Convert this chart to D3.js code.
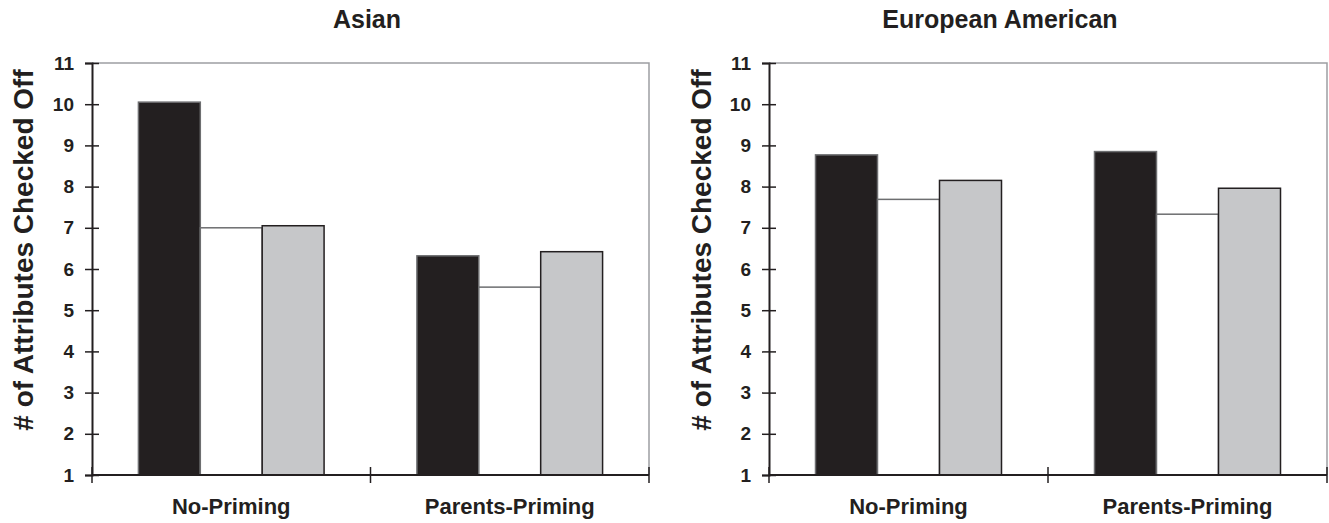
<!DOCTYPE html>
<html>
<head>
<meta charset="utf-8">
<script src="https://cdn.jsdelivr.net/npm/d3@7"></script>
<style>
  html, body { margin: 0; padding: 0; background: #fff; }
  svg { display: block; }
  text { font-family: "Liberation Sans", Arial, sans-serif; font-weight: bold; fill: #231f20; }
</style>
</head>
<body>
<svg id="chart" width="1329" height="523"></svg>
<script>
// ---- data ----
const categories = ["No-Priming", "Parents-Priming"];
const seriesNames = ["s1", "s2", "s3"];
const panelTitles = ["Asian", "European American"];
const asianValues = [[10.05, 7.0, 7.05], [6.32, 5.56, 6.42]];
const euroValues = [[8.77, 7.69, 8.15], [8.85, 7.33, 7.96]];
const yTicks = [1, 2, 3, 4, 5, 6, 7, 8, 9, 10, 11];
const yLabel = "# of Attributes Checked Off";

const fills = ["#231f20", "#ffffff", "#c6c7c9"];
const strokes = ["#6d6e70", "#6d6e70", "#231f20"];

const svg = d3.select("#chart");

const panels = [
  { title: panelTitles[0], values: asianValues, x0: 92, x1: 649, titleX: 367, labelX: 33 },
  { title: panelTitles[1], values: euroValues, x0: 769, x1: 1327, titleX: 1000, labelX: 711 }
];
const yTop = 63, yBottom = 475;

panels.forEach(p => {
  const g = svg.append("g");
  const y = d3.scaleLinear().domain([1, 11]).range([yBottom, yTop]);
  const x = d3.scaleBand().domain(categories).range([p.x0, p.x1]).padding(0);
  const xs = d3.scaleBand().domain(seriesNames).range([0, x.bandwidth()]).paddingInner(0).paddingOuter(0.75);

  // plot frame (top and right in gray)
  g.append("path")
    .attr("d", `M${p.x0},${yTop}H${p.x1}V${yBottom}`)
    .attr("fill", "none").attr("stroke", "#9d9fa2").attr("stroke-width", 1.5);

  // bars
  categories.forEach((c, ci) => {
    seriesNames.forEach((s, si) => {
      const v = p.values[ci][si];
      g.append("rect")
        .attr("x", x(c) + xs(s))
        .attr("y", y(v))
        .attr("width", xs.bandwidth())
        .attr("height", y(1) - y(v))
        .attr("fill", fills[si])
        .attr("stroke", strokes[si])
        .attr("stroke-width", 1.5);
    });
  });

  // y axis
  const yAxis = d3.axisLeft(y).tickValues(yTicks).tickSize(7).tickPadding(11).tickFormat(d3.format("d"));
  const ya = g.append("g").attr("transform", `translate(${p.x0},0)`).call(yAxis);
  ya.select(".domain").attr("stroke", "#231f20").attr("stroke-width", 2);
  ya.selectAll(".tick line").attr("stroke", "#231f20").attr("stroke-width", 1.5).attr("x1", 7);
  ya.selectAll(".tick text").style("font-size", "19px").attr("fill", "#231f20");

  // x axis
  const xa = g.append("g").attr("transform", `translate(0,${yBottom})`);
  xa.append("line").attr("x1", p.x0).attr("x2", p.x1).attr("y1", 0).attr("y2", 0)
    .attr("stroke", "#231f20").attr("stroke-width", 2);
  const bounds = [p.x0, x(categories[1]), p.x1];
  xa.selectAll("line.tk").data(bounds).enter().append("line").attr("class", "tk")
    .attr("x1", d => d).attr("x2", d => d).attr("y1", -8).attr("y2", 8)
    .attr("stroke", "#231f20").attr("stroke-width", 1.5);
  xa.selectAll("text.cat").data(categories).enter().append("text").attr("class", "cat")
    .attr("x", d => x(d) + x.bandwidth() / 2).attr("y", 39)
    .attr("text-anchor", "middle").style("font-size", "22px").text(d => d);

  // title
  g.append("text").attr("x", p.titleX).attr("y", 28).attr("text-anchor", "middle")
    .style("font-size", "25px").text(p.title);

  // y label
  g.append("text")
    .attr("transform", `translate(${p.labelX},250) rotate(-90)`)
    .attr("text-anchor", "middle").style("font-size", "28px").text(yLabel);
});
</script>
</body>
</html>
